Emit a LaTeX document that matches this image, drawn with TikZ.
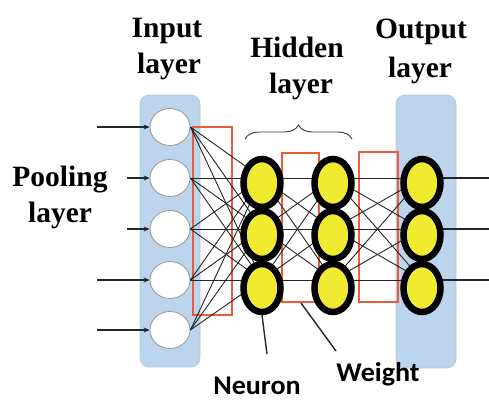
\documentclass[tikz,border=0pt]{standalone}
\usepackage{fontspec}
\setmainfont{Liberation Serif}
\newfontfamily\tnrfont{Liberation Serif}
\newfontfamily\calfont{Carlito}[FakeStretch=1.04]
\usetikzlibrary{arrows.meta,decorations.pathreplacing,shapes.geometric}
\definecolor{panel}{RGB}{188,212,236}
\definecolor{redbox}{RGB}{236,92,58}
\definecolor{neur}{RGB}{240,234,48}
\tikzset{
  panelbox/.style={fill=panel,draw=panel!85!gray,line width=0.6pt,rounded corners=9pt},
  wbox/.style={draw=redbox,line width=1.6pt},
  incirc/.style={ellipse,fill=white,draw=gray!80,line width=0.8pt,minimum width=40pt,minimum height=37pt,inner sep=0pt},
  hneur/.style={ellipse,fill=neur,draw=black,line width=6.5pt,minimum width=37pt,minimum height=48pt,inner sep=0pt},
  wire/.style={draw=black!85,line width=0.9pt},
  inarrow/.style={draw=black!85,line width=1.1pt,-{Stealth[length=6pt,width=5pt]}},
  ttl/.style={anchor=base,inner sep=0pt,font=\tnrfont\bfseries\fontsize{29.5}{32}\selectfont},
  lbl/.style={anchor=base,inner sep=0pt,font=\calfont\bfseries\fontsize{27}{30}\selectfont},
  pointer/.style={draw=black!85,line width=1.4pt}
}
\begin{document}
\begin{tikzpicture}[x=1pt,y=-1pt]
\useasboundingbox (0,0) rectangle (489,400);
% panels
\path[panelbox] (140,95) rectangle (200,367);
\path[panelbox] (396,95) rectangle (456,368);
% red weight boxes
\draw[wbox] (193,127) rectangle (232,315);
\draw[wbox] (282,153) rectangle (319,302);
\draw[wbox] (359,152) rectangle (398,302);
% input neurons
\foreach \i/\y in {1/127,2/178,3/229,4/280,5/330}{
  \node[incirc] (in\i) at (170,\y) {};
}
% wire anchor points of hidden and output layers
\foreach \j/\y in {1/178,2/229,3/280}{
  \coordinate (h1c\j) at (262,\y);
  \coordinate (h2c\j) at (333,\y);
  \coordinate (oc\j) at (422,\y);
}
% wires
\foreach \i in {1,...,5}{
  \foreach \j in {1,2,3}{
    \draw[wire] (in\i.east) -- (h1c\j);
  }
}
\foreach \i in {1,2,3}{
  \foreach \j in {1,2,3}{
    \draw[wire] (h1c\i) -- (h2c\j);
    \draw[wire] (h2c\i) -- (oc\j);
  }
}
\foreach \j/\y in {1/178,2/229,3/280}{
  \coordinate (out\j) at (489,\y);
  \draw[wire,line width=1.1pt] (oc\j) -- (out\j);
}
% neurons
\foreach \j/\y in {1/183,2/235,3/288}{
  \node[hneur] (h1\j) at (262,\y) {};
  \node[hneur] (h2\j) at (333,\y) {};
  \node[hneur] (o\j) at (422,\y) {};
}
% input arrows
\coordinate (s1) at (97,127);
\coordinate (s2) at (127,178);
\coordinate (s3) at (127,229);
\coordinate (s4) at (97,280);
\coordinate (s5) at (97,330);
\foreach \i in {1,...,5}{
  \draw[inarrow] (s\i) -- (in\i.west);
}
% brace
\coordinate (bl) at (245,139);
\coordinate (br) at (352,139);
\draw[decorate,decoration={brace,amplitude=14pt},line width=0.9pt,black!80] (bl) -- (br);
% titles
\node[ttl] (t1a) at (167,37) {Input};
\node[ttl] (t1b) at (169,73) {layer};
\node[ttl] (t2a) at (297,57) {Hidden};
\node[ttl] (t2b) at (301,93) {layer};
\node[ttl] (t3a) at (421,38) {Output};
\node[ttl] (t3b) at (420,77) {layer};
\node[ttl] (p1) at (60,186) {Pooling};
\node[ttl] (p2) at (60,222) {layer};
% labels
\node[lbl] (neuron) at (257,394) {Neuron};
\node[lbl] (weight) at (378,381) {Weight};
\coordinate (nend) at (267,354);
\coordinate (wstart) at (301,303);
\coordinate (wend) at (336,351);
\draw[pointer] (h13.south) -- (nend);
\draw[pointer] (wstart) -- (wend);
\end{tikzpicture}
\end{document}
